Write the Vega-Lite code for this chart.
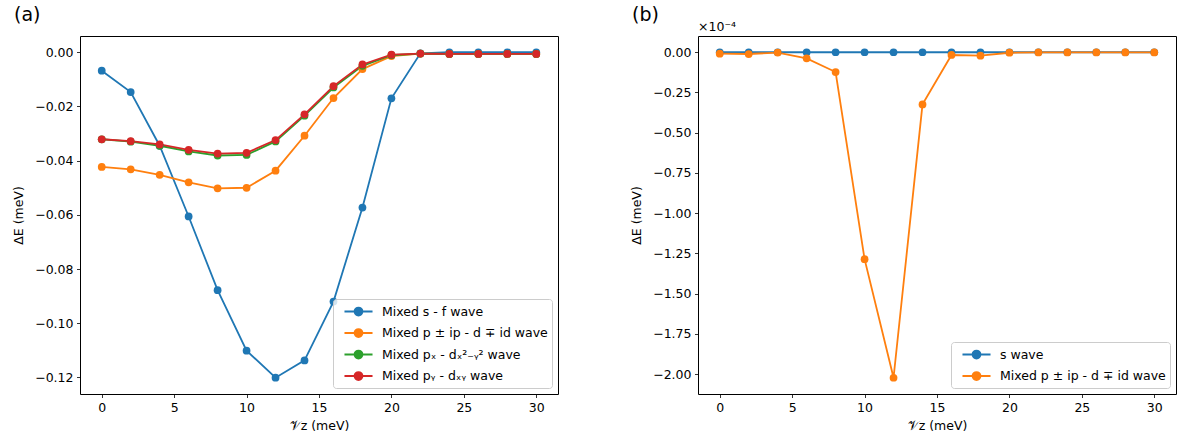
{
  "$schema": "https://vega.github.io/schema/vega-lite/v6.json",
  "padding": {"left": 12, "top": 5, "right": 2, "bottom": 4},
  "bounds": "flush",
  "spacing": 140,
  "background": "white",
  "config": {
    "font": "DejaVu Sans",
    "view": {"stroke": "black", "strokeWidth": 1},
    "axis": {"grid": false, "domain": false, "tickColor": "black", "tickSize": 3.5, "tickWidth": 0.8, "labelFontSize": 12.5, "labelColor": "black", "titleFontSize": 12.5, "titleFontWeight": "normal", "titleColor": "black", "labelPadding": 3.5},
    "axisY": {"titlePadding": 9},
    "axisX": {"titlePadding": 6},
    "title": {"fontSize": 19, "fontWeight": "normal", "anchor": "start", "frame": "group", "color": "black", "dx": -66},
    "legend": {"orient": "bottom-right", "offset": 6, "title": null, "symbolType": "M-1.87,0H1.87M-0.53,0A0.53,0.53,0,1,1,0.53,0A0.53,0.53,0,1,1,-0.53,0Z", "symbolSize": 225, "symbolStrokeWidth": 1.8, "labelFontSize": 12.5, "labelColor": "black", "labelLimit": 0, "strokeColor": "#cccccc", "fillColor": "rgba(255,255,255,0.8)", "padding": 4, "symbolOffset": 13, "cornerRadius": 3, "rowPadding": 4.5, "labelOffset": 15, "symbolOpacity": 1}
  },
  "resolve": {"scale": {"color": "independent"}, "legend": {"color": "independent"}},
  "hconcat": [
    {
      "width": 478,
      "height": 358,
      "title": {"text": "(a)", "offset": 11},
      "data": {"values": [
        {"Vz": 0, "series": "Mixed s - f wave", "dE": -0.0068},
        {"Vz": 2, "series": "Mixed s - f wave", "dE": -0.0147},
        {"Vz": 4, "series": "Mixed s - f wave", "dE": -0.0345},
        {"Vz": 6, "series": "Mixed s - f wave", "dE": -0.0606},
        {"Vz": 8, "series": "Mixed s - f wave", "dE": -0.0878},
        {"Vz": 10, "series": "Mixed s - f wave", "dE": -0.1101},
        {"Vz": 12, "series": "Mixed s - f wave", "dE": -0.1201},
        {"Vz": 14, "series": "Mixed s - f wave", "dE": -0.1137},
        {"Vz": 16, "series": "Mixed s - f wave", "dE": -0.0920},
        {"Vz": 18, "series": "Mixed s - f wave", "dE": -0.0573},
        {"Vz": 20, "series": "Mixed s - f wave", "dE": -0.0170},
        {"Vz": 22, "series": "Mixed s - f wave", "dE": -0.0004},
        {"Vz": 24, "series": "Mixed s - f wave", "dE": 0.0},
        {"Vz": 26, "series": "Mixed s - f wave", "dE": 0.0},
        {"Vz": 28, "series": "Mixed s - f wave", "dE": 0.0},
        {"Vz": 30, "series": "Mixed s - f wave", "dE": 0.0},
        {"Vz": 0, "series": "Mixed p ± ip - d ∓ id wave", "dE": -0.0423},
        {"Vz": 2, "series": "Mixed p ± ip - d ∓ id wave", "dE": -0.0432},
        {"Vz": 4, "series": "Mixed p ± ip - d ∓ id wave", "dE": -0.0452},
        {"Vz": 6, "series": "Mixed p ± ip - d ∓ id wave", "dE": -0.0480},
        {"Vz": 8, "series": "Mixed p ± ip - d ∓ id wave", "dE": -0.0502},
        {"Vz": 10, "series": "Mixed p ± ip - d ∓ id wave", "dE": -0.0500},
        {"Vz": 12, "series": "Mixed p ± ip - d ∓ id wave", "dE": -0.0437},
        {"Vz": 14, "series": "Mixed p ± ip - d ∓ id wave", "dE": -0.0308},
        {"Vz": 16, "series": "Mixed p ± ip - d ∓ id wave", "dE": -0.0169},
        {"Vz": 18, "series": "Mixed p ± ip - d ∓ id wave", "dE": -0.0062},
        {"Vz": 20, "series": "Mixed p ± ip - d ∓ id wave", "dE": -0.0014},
        {"Vz": 22, "series": "Mixed p ± ip - d ∓ id wave", "dE": -0.0005},
        {"Vz": 24, "series": "Mixed p ± ip - d ∓ id wave", "dE": -0.0006},
        {"Vz": 26, "series": "Mixed p ± ip - d ∓ id wave", "dE": -0.0006},
        {"Vz": 28, "series": "Mixed p ± ip - d ∓ id wave", "dE": -0.0006},
        {"Vz": 30, "series": "Mixed p ± ip - d ∓ id wave", "dE": -0.0006},
        {"Vz": 0, "series": "Mixed pₓ - dₓ²₋ᵧ² wave", "dE": -0.0321},
        {"Vz": 2, "series": "Mixed pₓ - dₓ²₋ᵧ² wave", "dE": -0.0330},
        {"Vz": 4, "series": "Mixed pₓ - dₓ²₋ᵧ² wave", "dE": -0.0345},
        {"Vz": 6, "series": "Mixed pₓ - dₓ²₋ᵧ² wave", "dE": -0.0366},
        {"Vz": 8, "series": "Mixed pₓ - dₓ²₋ᵧ² wave", "dE": -0.0381},
        {"Vz": 10, "series": "Mixed pₓ - dₓ²₋ᵧ² wave", "dE": -0.0379},
        {"Vz": 12, "series": "Mixed pₓ - dₓ²₋ᵧ² wave", "dE": -0.0329},
        {"Vz": 14, "series": "Mixed pₓ - dₓ²₋ᵧ² wave", "dE": -0.0234},
        {"Vz": 16, "series": "Mixed pₓ - dₓ²₋ᵧ² wave", "dE": -0.0130},
        {"Vz": 18, "series": "Mixed pₓ - dₓ²₋ᵧ² wave", "dE": -0.0050},
        {"Vz": 20, "series": "Mixed pₓ - dₓ²₋ᵧ² wave", "dE": -0.0011},
        {"Vz": 22, "series": "Mixed pₓ - dₓ²₋ᵧ² wave", "dE": -0.0005},
        {"Vz": 24, "series": "Mixed pₓ - dₓ²₋ᵧ² wave", "dE": -0.0006},
        {"Vz": 26, "series": "Mixed pₓ - dₓ²₋ᵧ² wave", "dE": -0.0006},
        {"Vz": 28, "series": "Mixed pₓ - dₓ²₋ᵧ² wave", "dE": -0.0006},
        {"Vz": 30, "series": "Mixed pₓ - dₓ²₋ᵧ² wave", "dE": -0.0006},
        {"Vz": 0, "series": "Mixed pᵧ - dₓᵧ wave", "dE": -0.0321},
        {"Vz": 2, "series": "Mixed pᵧ - dₓᵧ wave", "dE": -0.0328},
        {"Vz": 4, "series": "Mixed pᵧ - dₓᵧ wave", "dE": -0.0340},
        {"Vz": 6, "series": "Mixed pᵧ - dₓᵧ wave", "dE": -0.0360},
        {"Vz": 8, "series": "Mixed pᵧ - dₓᵧ wave", "dE": -0.0374},
        {"Vz": 10, "series": "Mixed pᵧ - dₓᵧ wave", "dE": -0.0371},
        {"Vz": 12, "series": "Mixed pᵧ - dₓᵧ wave", "dE": -0.0324},
        {"Vz": 14, "series": "Mixed pᵧ - dₓᵧ wave", "dE": -0.0229},
        {"Vz": 16, "series": "Mixed pᵧ - dₓᵧ wave", "dE": -0.0125},
        {"Vz": 18, "series": "Mixed pᵧ - dₓᵧ wave", "dE": -0.0045},
        {"Vz": 20, "series": "Mixed pᵧ - dₓᵧ wave", "dE": -0.0009},
        {"Vz": 22, "series": "Mixed pᵧ - dₓᵧ wave", "dE": -0.0005},
        {"Vz": 24, "series": "Mixed pᵧ - dₓᵧ wave", "dE": -0.0006},
        {"Vz": 26, "series": "Mixed pᵧ - dₓᵧ wave", "dE": -0.0006},
        {"Vz": 28, "series": "Mixed pᵧ - dₓᵧ wave", "dE": -0.0006},
        {"Vz": 30, "series": "Mixed pᵧ - dₓᵧ wave", "dE": -0.0006}
      ]},
      "encoding": {
        "x": {"field": "Vz", "type": "quantitative", "scale": {"domain": [-1.5, 31.5], "nice": false, "zero": false}, "axis": {"values": [0, 5, 10, 15, 20, 25, 30], "title": "𝒱z (meV)"}},
        "y": {"field": "dE", "type": "quantitative", "scale": {"domain": [-0.1261, 0.006], "nice": false, "zero": false}, "axis": {"values": [0, -0.02, -0.04, -0.06, -0.08, -0.1, -0.12], "format": ".2f", "title": "ΔE (meV)"}},
        "color": {"field": "series", "type": "nominal", "sort": null, "scale": {"domain": ["Mixed s - f wave", "Mixed p ± ip - d ∓ id wave", "Mixed pₓ - dₓ²₋ᵧ² wave", "Mixed pᵧ - dₓᵧ wave"], "range": ["#1f77b4", "#ff7f0e", "#2ca02c", "#d62728"]}}
      },
      "layer": [
        {"mark": {"type": "line", "strokeWidth": 1.8}},
        {"mark": {"type": "point", "filled": true, "size": 60, "opacity": 1}}
      ]
    },
    {
      "width": 478,
      "height": 358,
      "title": {"text": "(b)", "offset": -3.5},
      "layer": [
        {
          "data": {"values": [
            {"Vz": 0, "series": "s wave", "dE": 0.0},
            {"Vz": 2, "series": "s wave", "dE": 0.0},
            {"Vz": 4, "series": "s wave", "dE": 0.0},
            {"Vz": 6, "series": "s wave", "dE": 0.0},
            {"Vz": 8, "series": "s wave", "dE": 0.0},
            {"Vz": 10, "series": "s wave", "dE": 0.0},
            {"Vz": 12, "series": "s wave", "dE": 0.0},
            {"Vz": 14, "series": "s wave", "dE": 0.0},
            {"Vz": 16, "series": "s wave", "dE": 0.0},
            {"Vz": 18, "series": "s wave", "dE": 0.0},
            {"Vz": 20, "series": "s wave", "dE": 0.0},
            {"Vz": 22, "series": "s wave", "dE": 0.0},
            {"Vz": 24, "series": "s wave", "dE": 0.0},
            {"Vz": 26, "series": "s wave", "dE": 0.0},
            {"Vz": 28, "series": "s wave", "dE": 0.0},
            {"Vz": 30, "series": "s wave", "dE": 0.0},
            {"Vz": 0, "series": "Mixed p ± ip - d ∓ id wave", "dE": -0.009},
            {"Vz": 2, "series": "Mixed p ± ip - d ∓ id wave", "dE": -0.011},
            {"Vz": 4, "series": "Mixed p ± ip - d ∓ id wave", "dE": -0.002},
            {"Vz": 6, "series": "Mixed p ± ip - d ∓ id wave", "dE": -0.038},
            {"Vz": 8, "series": "Mixed p ± ip - d ∓ id wave", "dE": -0.123},
            {"Vz": 10, "series": "Mixed p ± ip - d ∓ id wave", "dE": -1.286},
            {"Vz": 12, "series": "Mixed p ± ip - d ∓ id wave", "dE": -2.023},
            {"Vz": 14, "series": "Mixed p ± ip - d ∓ id wave", "dE": -0.324},
            {"Vz": 16, "series": "Mixed p ± ip - d ∓ id wave", "dE": -0.017},
            {"Vz": 18, "series": "Mixed p ± ip - d ∓ id wave", "dE": -0.021},
            {"Vz": 20, "series": "Mixed p ± ip - d ∓ id wave", "dE": -0.003},
            {"Vz": 22, "series": "Mixed p ± ip - d ∓ id wave", "dE": -0.001},
            {"Vz": 24, "series": "Mixed p ± ip - d ∓ id wave", "dE": -0.001},
            {"Vz": 26, "series": "Mixed p ± ip - d ∓ id wave", "dE": -0.001},
            {"Vz": 28, "series": "Mixed p ± ip - d ∓ id wave", "dE": -0.001},
            {"Vz": 30, "series": "Mixed p ± ip - d ∓ id wave", "dE": -0.001}
          ]},
          "encoding": {
            "x": {"field": "Vz", "type": "quantitative", "scale": {"domain": [-1.5, 31.5], "nice": false, "zero": false}, "axis": {"values": [0, 5, 10, 15, 20, 25, 30], "title": "𝒱z (meV)"}},
            "y": {"field": "dE", "type": "quantitative", "scale": {"domain": [-2.124, 0.101], "nice": false, "zero": false}, "axis": {"values": [0, -0.25, -0.5, -0.75, -1, -1.25, -1.5, -1.75, -2], "format": ".2f", "title": "ΔE (meV)"}},
            "color": {"field": "series", "type": "nominal", "sort": null, "scale": {"domain": ["s wave", "Mixed p ± ip - d ∓ id wave"], "range": ["#1f77b4", "#ff7f0e"]}}
          },
          "layer": [
            {"mark": {"type": "line", "strokeWidth": 1.8}},
            {"mark": {"type": "point", "filled": true, "size": 60, "opacity": 1}}
          ]
        },
        {
          "data": {"values": [{"label": "×10⁻⁴", "Vz": -1.5, "dE": 0.101}]},
          "mark": {"type": "text", "align": "left", "baseline": "bottom", "dy": -2, "fontSize": 12.5, "color": "black"},
          "encoding": {
            "x": {"field": "Vz", "type": "quantitative"},
            "y": {"field": "dE", "type": "quantitative"},
            "text": {"field": "label"}
          }
        }
      ]
    }
  ]
}
